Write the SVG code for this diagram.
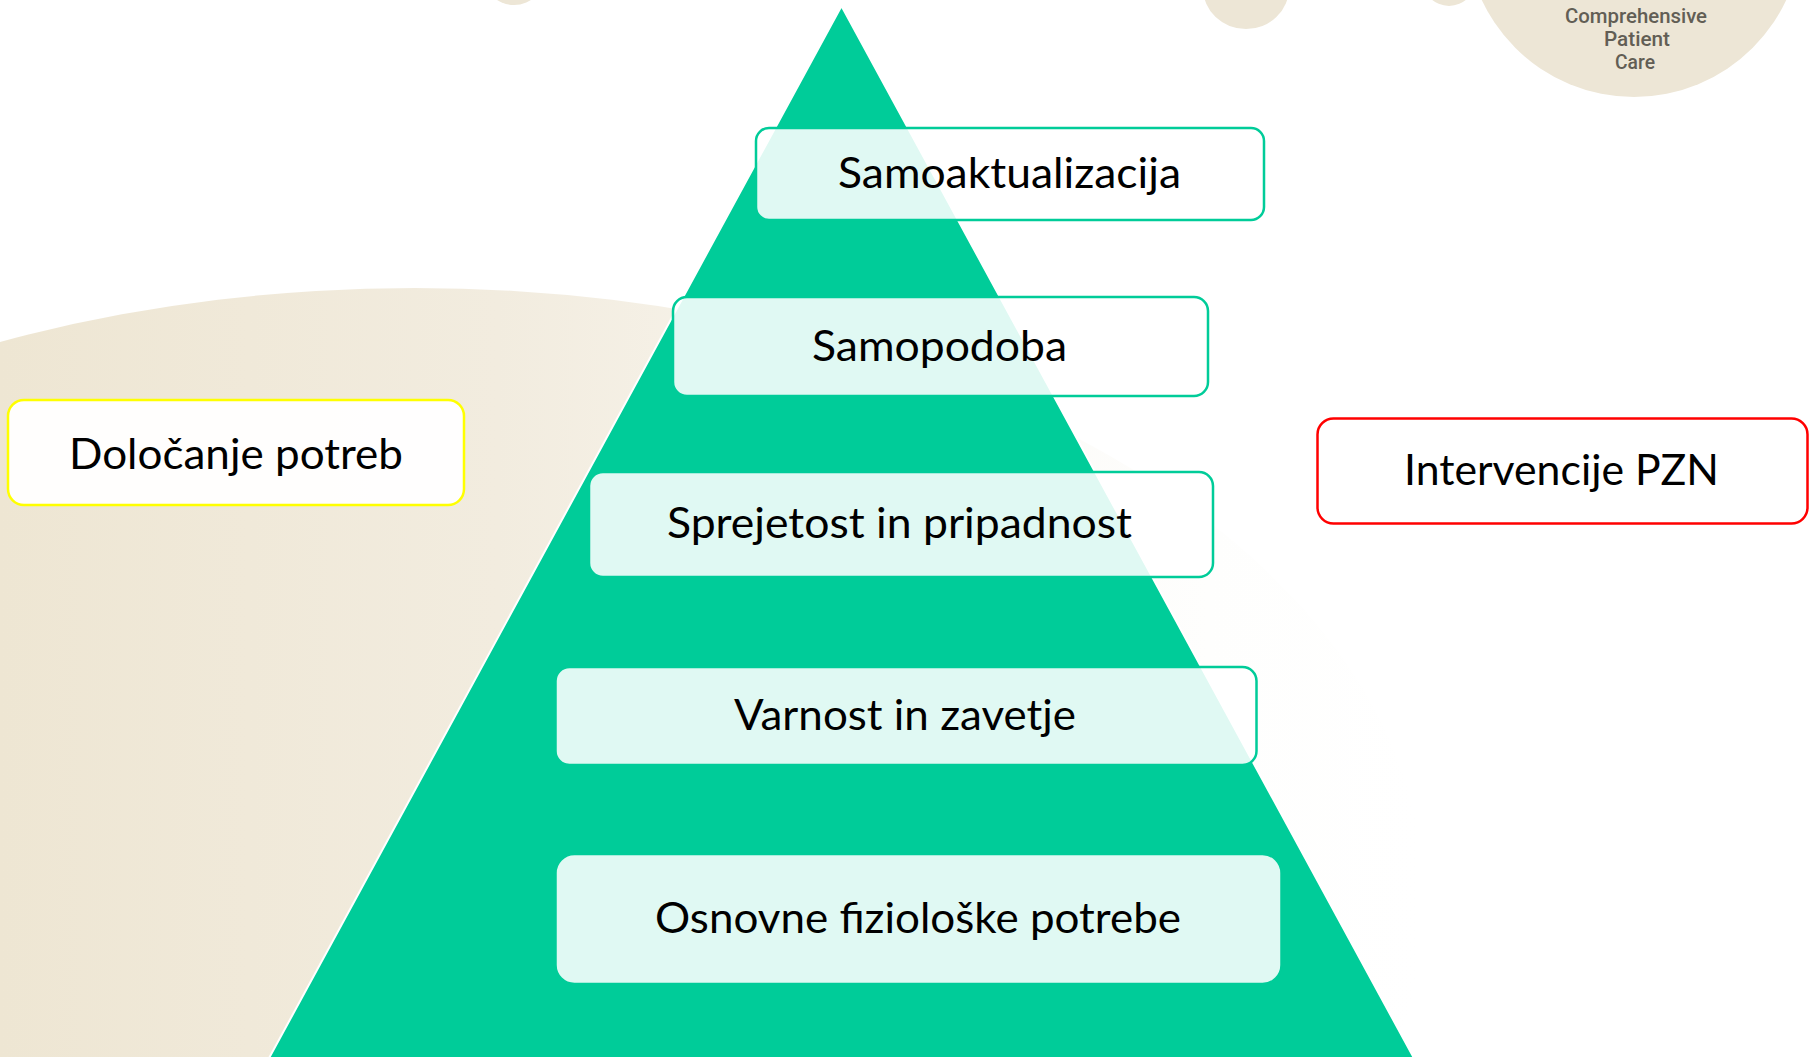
<svg xmlns="http://www.w3.org/2000/svg" width="1810" height="1057" viewBox="0 0 1810 1057">
<defs>
<linearGradient id="beige" x1="0" y1="0" x2="1420" y2="0" gradientUnits="userSpaceOnUse">
<stop offset="0" stop-color="#eee6d3"/>
<stop offset="0.35" stop-color="#f2ecdf"/>
<stop offset="0.55" stop-color="#f7f3ea"/>
<stop offset="0.72" stop-color="#fcfbf8"/>
<stop offset="0.85" stop-color="#fefefd"/>
<stop offset="1" stop-color="#ffffff"/>
</linearGradient>
<style>
.deco{fill:#ede6d6;}
.lvl{fill:#ffffff;fill-opacity:0.88;stroke:#00cc99;stroke-width:2.5;}
.side{fill:#ffffff;fill-opacity:0.95;stroke-width:2.5;}
.lbl{font-family:Lato,"Open Sans","Liberation Sans",sans-serif;font-size:43px;fill:#000000;}
.logo{font-family:Roboto,"Liberation Sans",sans-serif;font-size:21px;font-weight:500;fill:#625e55;text-anchor:middle;}
</style>
</defs>
<rect x="0" y="0" width="1810" height="1057" fill="#ffffff"/>
<g id="background">
<ellipse cx="415" cy="900" rx="1010" ry="612" fill="url(#beige)"/>
<ellipse class="deco" cx="514" cy="-28" rx="32" ry="33"/>
<ellipse class="deco" cx="1246" cy="-12" rx="43" ry="41"/>
<ellipse class="deco" cx="1449" cy="-22" rx="27" ry="28"/>
<circle class="deco" cx="1634" cy="-71" r="168"/>
<g id="logo-text">
<text class="logo" x="1636" y="23" textLength="142" lengthAdjust="spacingAndGlyphs">Comprehensive</text>
<text class="logo" x="1637" y="46" textLength="66" lengthAdjust="spacingAndGlyphs">Patient</text>
<text class="logo" x="1635" y="69" textLength="40" lengthAdjust="spacingAndGlyphs">Care</text>
</g>
</g>
<g id="pyramid">
<polygon points="841.5,6 1415,1060 268,1060" fill="#00cc99" stroke="#ffffff" stroke-width="2" stroke-linejoin="round"/>
</g>
<g id="connectors"></g>
<g id="node-samoaktualizacija">
<rect class="lvl" x="756" y="128" width="508" height="92" rx="13"/>
<text class="lbl" x="838" y="188" textLength="343" lengthAdjust="spacingAndGlyphs">Samoaktualizacija</text>
</g>
<g id="node-samopodoba">
<rect class="lvl" x="673" y="297" width="535" height="99" rx="14"/>
<text class="lbl" x="812" y="361" textLength="255" lengthAdjust="spacingAndGlyphs">Samopodoba</text>
</g>
<g id="node-sprejetost">
<rect class="lvl" x="589" y="472" width="624" height="105" rx="14"/>
<text class="lbl" x="667" y="538" textLength="465" lengthAdjust="spacingAndGlyphs">Sprejetost in pripadnost</text>
</g>
<g id="node-varnost">
<rect class="lvl" x="555.5" y="667" width="701" height="98" rx="14"/>
<text class="lbl" x="734" y="730" textLength="342" lengthAdjust="spacingAndGlyphs">Varnost in zavetje</text>
</g>
<g id="node-osnovne">
<rect class="lvl" x="555.5" y="854" width="726" height="130" rx="19"/>
<text class="lbl" x="655" y="933" textLength="526" lengthAdjust="spacingAndGlyphs">Osnovne fiziološke potrebe</text>
</g>
<g id="node-dolocanje">
<rect class="side" x="8" y="400" width="456" height="105" rx="16" stroke="#ffff00"/>
<text class="lbl" x="69" y="469" textLength="334" lengthAdjust="spacingAndGlyphs">Določanje potreb</text>
</g>
<g id="node-intervencije">
<rect class="side" x="1317.5" y="418.5" width="490" height="105" rx="16" stroke="#ff0000"/>
<text class="lbl" x="1404" y="485" textLength="315" lengthAdjust="spacingAndGlyphs">Intervencije PZN</text>
</g>
</svg>
